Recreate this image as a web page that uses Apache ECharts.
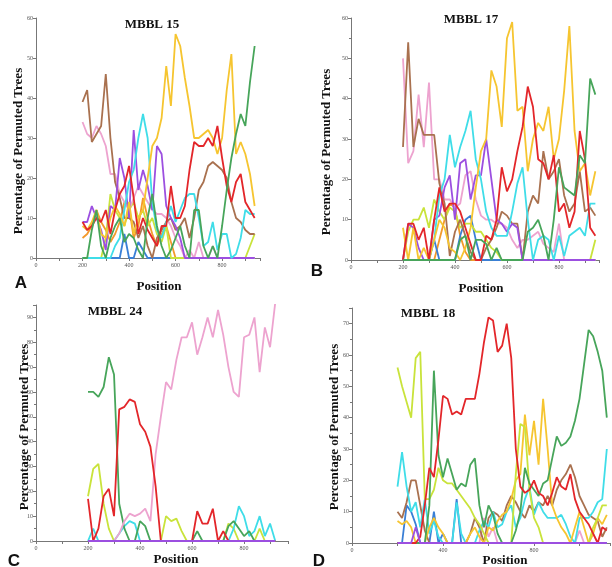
<!DOCTYPE html>
<html>
<head>
<meta charset="utf-8">
<script src="https://cdn.jsdelivr.net/npm/echarts@6/dist/echarts.min.js"></script>
<style>
  html, body { margin: 0; padding: 0; background: #fff; }
  #main { width: 612px; height: 567px; }
</style>
</head>
<body>
<div id="main"></div>
<script>
// positions along the alignment
const posAB = [200,220,240,260,280,300,320,340,360,380,400,420,440,460,480,500,520,540,560,580,600,620,640,660,680,700,720,740,760,780,800,820,840,860,880,900,920,940]
const posC = [200,220,240,260,280,300,320,340,360,380,400,420,440,460,480,500,520,540,560,580,600,620,640,660,680,700,720,740,760,780,800,820,840,860,880,900,920]
const posD = [200,220,240,260,280,300,320,340,360,380,400,420,440,460,480,500,520,540,560,580,600,620,640,660,680,700,720,740,760,780,800,820,840,860,880,900,920,940,960,980,1000,1020,1040,1060,1080,1100,1120]

// MBBL 15
const brownA = [39,42,29,31,33,46,30,19,15,10, 10,9,5,8,3,0,5,7,9,10, 7,8,10,5,10,17,19,23,24,23, 22,20,14,10,9,7,6,6]
const pinkA = [34,31,30,33,31,28,21,21,16,14, 12,15,18,16,14,12,11,11,10,8, 5,3,0,2,0,4,0,0,3,0, 0,0,0,0,0,0,0,0]
const redA = [9,7,8,10,9,12,6,12,16,18, 23,15,6,10,7,5,3,8,8,18, 10,10,13,22,29,28,28,30,28,33, 25,18,14,19,21,14,12,10]
const goldA = [8,7,9,12,6,5,10,13,11,8, 14,6,10,12,20,28,30,35,48,38, 56,53,45,38,30,30,31,32,30,26, 30,42,51,26,29,26,21,13]
const cyanA = [0,0,0,0,0,0,0,3,5,12, 19,22,30,36,30,14,7,5,9,13, 9,12,15,16,16,10,3,4,9,2, 6,6,0,1,5,12,11,11]
const purpleA = [9,9,13,10,7,2,13,12,25,20, 10,32,17,22,18,12,28,26,13,10, 8,5,0,0,0,0,0,0,0,0, 0,0,0,0,0,0,0,0]
const greenA = [0,0,7,12,3,0,5,8,10,4, 6,5,2,0,10,16,8,3,0,2, 5,8,3,0,12,12,3,0,3,0, 8,17,25,31,36,33,44,53]
const limeA = [0,0,0,0,0,5,16,12,10,8, 12,14,10,12,8,10,6,4,8,0, 0,0,0,0,0,0,0,0,0,0, 0,0,0,0,0,0,3,6]
const orangeA = [5,6,8,12,9,7,4,6,9,14, 13,5,8,15,10,6,3,6,8,4, 0,0,0,0,0,0,0,0,0,0, 0,0,0,0,0,0,0,0]
const blueA = [0,0,0,0,0,0,0,0,0,6, 0,0,4,2,0,0,0,0,0,0, 0,0,0,0,0,0,0,0,0,0, 0,0,0,0,0,0,0,0]

// MBBL 17
const brownB = [28,54,28,35,31,31,31,19,14,1, 7,10,6,2,0,0,3,5,8,12, 11,9,9,0,12,16,14,27,20,22, 25,16,12,14,22,12,13,11]
const pinkB = [50,24,27,41,28,44,20,20,15,15, 13,14,21,22,15,11,10,10,9,9, 8,5,3,5,5,6,7,4,3,2, 9,0,0,0,0,0,0,0]
const redB = [0,9,9,5,8,0,10,18,12,14, 14,12,8,4,0,0,6,5,10,23, 17,20,27,33,43,38,25,24,20,26, 12,14,8,12,32,25,8,6]
const goldB = [8,0,8,0,3,0,5,10,8,3, 2,0,3,8,18,27,30,47,43,33, 55,59,37,38,22,30,34,32,38,25, 30,42,58,32,22,24,16,22]
const cyanB = [0,0,0,0,0,0,5,16,20,31, 23,28,32,37,25,20,12,8,6,6, 6,12,19,23,10,0,5,6,5,0, 6,1,6,7,8,6,14,14]
const purpleB = [0,9,8,3,0,0,10,11,18,21, 10,24,25,15,21,21,30,20,10,9, 7,9,8,0,0,0,0,0,0,0, 0,0,0,0,0,0,0,0]
const greenB = [0,0,0,0,0,0,0,0,0,0, 0,5,6,0,5,5,4,0,3,0, 0,0,0,0,7,8,10,6,0,10, 23,18,17,16,26,24,45,41]
const limeB = [0,7,10,10,13,8,15,12,10,13, 12,8,9,9,7,7,5,3,2,0, 0,0,0,0,0,0,0,0,0,0, 0,0,0,0,0,0,0,5]
const orangeB = [0,0,0,0,0,0,0,5,10,14, 13,6,2,0,0,0,0,0,0,0, 0,0,0,0,0,0,0,0,0,0, 0,0,0,0,0,0,0,0]
const blueB = [0,0,0,0,0,0,5,0,0,0, 0,6,10,11,5,0,0,0,0,0, 0,0,0,0,0,0,0,0,0,0, 0,0,0,0,0,0,0,0]

// MBBL 24
const pinkC = [0,0,0,0,0,0,3,8,11,10, 11,13,8,35,50,64,61,73,82,82, 88,75,82,90,82,93,83,70,60,58, 82,83,90,68,86,78,96]
const greenC = [60,60,58,62,74,67,15,5,0,0, 8,6,0,0,0,0,0,0,0,0, 0,4,0,0,0,0,0,6,8,5, 2,4,0,0,0,0,0]
const redC = [17,0,5,18,21,10,53,54,57,56, 47,44,38,22,0,0,0,0,0,0, 0,12,7,7,13,0,4,0,0,0, 0,0,0,0,0,0,0]
const limeC = [18,29,31,15,5,0,0,0,0,0, 0,0,0,0,0,10,8,9,4,0, 0,0,0,0,0,0,0,7,5,0, 0,0,0,5,0,0,0]
const cyanC = [0,5,0,0,0,0,3,6,8,7, 0,0,0,0,0,0,0,0,0,0, 0,0,0,0,0,0,0,0,5,14, 10,2,4,10,2,7,0]
const purpleC = [0,0,0,0,0,0,0,0,0,0, 0,0,0,0,0,0,0,0,0,0, 0,0,0,0,0,0,0,0,0,0, 0,0,0,0,0,0,0]

// MBBL 18
const redD = [0,0,0,0,0,2,12,24,21,33, 47,46,41,42,41,46,46,46,54,64, 72,71,61,63,70,59,30,18,16,17, 20,16,15,12,16,21,18,17,22,14, 10,8,6,3,0,5,4]
const greenD = [0,0,0,0,0,0,0,12,55,28, 21,27,22,17,19,18,25,27,12,5, 12,9,3,0,0,0,4,10,24,19, 17,15,19,20,27,34,31,32,34,39, 46,57,68,66,61,55,40]
const limeD = [56,50,45,40,59,61,14,14,17,24, 20,19,19,17,15,13,11,8,6,3, 0,0,0,0,0,0,22,38,37,17, 8,5,0,0,0,0,0,0,0,0, 0,0,0,5,8,12,12]
const goldD = [7,6,7,5,0,0,0,5,8,5, 3,0,0,0,0,0,3,5,2,0, 5,4,7,9,10,14,20,22,41,28, 39,25,46,30,12,8,5,3,0,5, 10,5,0,3,8,6,9]
const cyanD = [18,29,18,10,13,5,14,3,7,2, 0,0,0,13,3,0,0,0,4,7, 5,10,5,6,10,12,5,8,14,18, 9,13,10,8,8,8,9,6,2,0, 8,8,8,10,13,14,30]
const brownD = [10,8,13,20,20,12,4,0,0,0, 0,0,0,0,0,0,3,8,5,0, 8,10,9,7,12,15,13,10,8,12, 10,13,12,15,12,17,20,22,25,21, 15,12,9,8,7,2,5]
const blueD = [0,0,12,10,6,0,0,0,10,0, 3,0,0,14,0,0,0,0,0,0, 0,0,0,0,0,0,0,0,0,0, 0,0,0,0,0,0,0,0,0,0, 0,0,0,0,0,0,0]
const pinkD = [0,0,0,0,0,0,0,0,0,0, 0,0,0,0,0,0,0,0,0,8, 2,5,0,0,0,0,0,0,0,0, 0,0,0,0,0,0,0,0,0,0, 4,0,0,3,0,0,0]
const purpleD = [0,0,0,0,5,0,0,0,0,0, 0,0,0,0,0,0,0,0,0,0, 0,0,0,0,0,0,0,0,0,0, 0,0,0,0,0,0,0,0,0,0, 0,0,0,0,0,0,0]

const C = {
  brown: '#a9714f', pink: '#eda3cf', red: '#e3262a', gold: '#f6c530', cyan: '#3fdde8',
  purple: '#9c4fe0', green: '#47a55a', lime: '#c9e33b', blue: '#3a7fd6', orange: '#f39a2b'
}

function line (color, pos, vals, idx) {
  return {
    type: 'line',
    xAxisIndex: idx,
    yAxisIndex: idx,
    data: pos.map((p, i) => [p, vals[i]]),
    symbol: 'none',
    lineStyle: { color: color, width: 1.8 },
    itemStyle: { color: color },
    silent: true
  }
}

const axisColor = '#777'
const tickFont = { fontSize: 6, color: '#555', fontFamily: 'Liberation Serif' }

function xAx (idx, max, interval, labelStep) {
  return {
    type: 'value', gridIndex: idx, min: 0, max: max, interval: interval,
    axisLine: { show: true, onZero: false, lineStyle: { color: axisColor, width: 1 } },
    axisTick: { show: true, length: 3, lineStyle: { color: axisColor } },
    axisLabel: Object.assign({ margin: 4, formatter: v => (v % labelStep === 0 ? String(v) : '') }, tickFont),
    splitLine: { show: false }
  }
}

function yAx (idx, max, minor) {
  return {
    type: 'value', gridIndex: idx, min: 0, max: max, interval: 10,
    axisLine: { show: true, lineStyle: { color: axisColor, width: 1 } },
    axisTick: { show: true, length: 3, lineStyle: { color: axisColor } },
    minorTick: { show: minor, splitNumber: 2, length: 2, lineStyle: { color: axisColor } },
    axisLabel: Object.assign({ margin: 3, formatter: v => (v % 10 === 0 ? String(v) : '') }, tickFont),
    splitLine: { show: false }
  }
}

function txt (text, x, y, font, rot) {
  return {
    type: 'text', x: x, y: y, rotation: rot || 0, silent: true,
    style: { text: text, font: font, fill: '#111', align: 'center', verticalAlign: 'middle' }
  }
}

const serifB = 'bold 13px "Liberation Serif"'
const letterF = 'bold 17px "Liberation Sans"'

const chart = echarts.init(document.getElementById('main'))
chart.setOption({
  animation: false,
  backgroundColor: '#fff',
  grid: [
    { left: 36, top: 18, width: 224, height: 240, containLabel: false, outerBoundsMode: 'none' },
    { left: 351, top: 18, width: 248, height: 242, containLabel: false, outerBoundsMode: 'none' },
    { left: 36, top: 305, width: 252, height: 236, containLabel: false, outerBoundsMode: 'none' },
    { left: 352, top: 308, width: 258, height: 235, containLabel: false, outerBoundsMode: 'none' }
  ],
  xAxis: [xAx(0, 963, 100, 200), xAx(1, 954, 100, 200), xAx(2, 969, 100, 200), xAx(3, 1134, 200, 400)],
  yAxis: [yAx(0, 60, false), yAx(1, 60, true), yAx(2, 95, true), yAx(3, 75, true)],
  series: [
    line(C.orange, posAB, orangeA, 0),
    line(C.blue, posAB, blueA, 0),
    line(C.lime, posAB, limeA, 0),
    line(C.pink, posAB, pinkA, 0),
    line(C.brown, posAB, brownA, 0),
    line(C.purple, posAB, purpleA, 0),
    line(C.cyan, posAB, cyanA, 0),
    line(C.gold, posAB, goldA, 0),
    line(C.red, posAB, redA, 0),
    line(C.green, posAB, greenA, 0),

    line(C.orange, posAB, orangeB, 1),
    line(C.blue, posAB, blueB, 1),
    line(C.lime, posAB, limeB, 1),
    line(C.pink, posAB, pinkB, 1),
    line(C.brown, posAB, brownB, 1),
    line(C.purple, posAB, purpleB, 1),
    line(C.cyan, posAB, cyanB, 1),
    line(C.gold, posAB, goldB, 1),
    line(C.red, posAB, redB, 1),
    line(C.green, posAB, greenB, 1),

    line(C.lime, posC, limeC, 2),
    line(C.cyan, posC, cyanC, 2),
    line(C.green, posC, greenC, 2),
    line(C.pink, posC, pinkC, 2),
    line(C.red, posC, redC, 2),
    line(C.purple, posC, purpleC, 2),

    line(C.pink, posD, pinkD, 3),
    line(C.blue, posD, blueD, 3),
    line(C.brown, posD, brownD, 3),
    line(C.cyan, posD, cyanD, 3),
    line(C.gold, posD, goldD, 3),
    line(C.lime, posD, limeD, 3),
    line(C.green, posD, greenD, 3),
    line(C.red, posD, redD, 3),
    line(C.purple, posD, purpleD, 3)
  ],
  graphic: [
    txt('MBBL 15', 152, 25, serifB),
    txt('MBBL 17', 471, 20, serifB),
    txt('MBBL 24', 115, 312, serifB),
    txt('MBBL 18', 428, 314, serifB),
    txt('Percentage of Permuted Trees', 19, 151, serifB, Math.PI / 2),
    txt('Percentage of Permuted Trees', 327, 152, serifB, Math.PI / 2),
    txt('Percentage of Permuted Trees', 25, 427, serifB, Math.PI / 2),
    txt('Percentage of Permuted Trees', 335, 427, serifB, Math.PI / 2),
    txt('Position', 159, 287, serifB),
    txt('Position', 481, 289, serifB),
    txt('Position', 176, 560, serifB),
    txt('Position', 505, 561, serifB),
    txt('A', 21, 283, letterF),
    txt('B', 317, 271, letterF),
    txt('C', 14, 561, letterF),
    txt('D', 319, 561, letterF)
  ]
})
</script>
</body>
</html>
